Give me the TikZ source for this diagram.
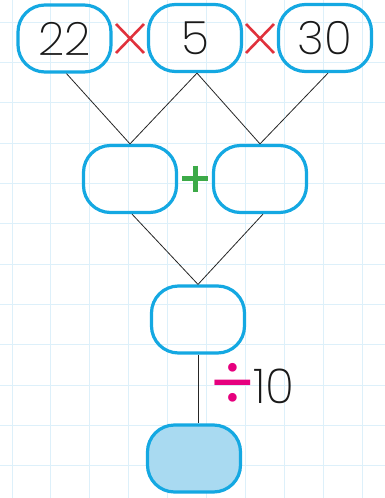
\documentclass[tikz,border=0pt]{standalone}
\usepackage{fontspec}
\setmainfont{Poppins ExtraLight}
\newfontfamily\opfont{Poppins}
\definecolor{gridc}{HTML}{DDF0FA}
\definecolor{boxc}{HTML}{14A8E2}
\definecolor{fillc}{HTML}{A9DAF1}
\definecolor{timesc}{HTML}{E0323C}
\definecolor{plusc}{HTML}{3CAA48}
\definecolor{divc}{HTML}{E6007E}
\tikzset{
  numbox/.style={draw=boxc, line width=3.2pt, rounded corners=27pt, minimum width=93pt, minimum height=67pt, inner sep=0pt, font=\fontsize{46}{46}\selectfont, text=black!90},
  conn/.style={draw=black!85, line width=0.8pt},
  timesmark/.style={draw=timesc, line width=2.6pt},
  plusmark/.style={draw=plusc, line width=5pt},
}
\begin{document}
\begin{tikzpicture}[x=1pt,y=-1pt]
\useasboundingbox (0,0) rectangle (385,498);
\fill[white] (0,0) rectangle (385,498);
\begin{scope}
\clip (0,0) rectangle (385,498);
\foreach \i in {0,...,9} \draw[gridc, line width=1pt] (12+38.9*\i,0) -- (12+38.9*\i,498);
\foreach \j in {-1,0,...,11} \draw[gridc, line width=1pt] (0,22.3+40.3*\j) -- (385,22.3+40.3*\j);
\end{scope}
% boxes
\node[numbox] (a22) at (64.5,38.5) {22};
\node[numbox] (a5) at (195,38) {5};
\node[numbox] (a30) at (325,38) {30};
\node[numbox] (m1) at (130,179) {};
\node[numbox] (m2) at (260,179) {};
\node[numbox] (s) at (198,319.5) {};
\node[numbox, fill=fillc] (r) at (194,458.5) {};
% connectors
\draw[conn] ([xshift=2pt]a22.south) -- (m1.north);
\draw[conn] ([xshift=2pt]a5.south) -- (m1.north);
\draw[conn] ([xshift=2pt]a5.south) -- (m2.north);
\draw[conn] ([xshift=3pt]a30.south) -- (m2.north);
\draw[conn] ([xshift=2pt]m1.south) -- (s.north);
\draw[conn] ([xshift=3pt]m2.south) -- (s.north);
\draw[conn] (s.south) -- (s.south |- r.north);
% operators
\draw[timesmark] (116,24) -- (144,53) (116,53) -- (144,24);
\draw[timesmark] (246,24) -- (274,53) (246,53) -- (274,24);
\draw[plusmark] (182,178.5) -- (208,178.5) (195,165.5) -- (195,191.5);
\node[inner sep=0pt, font=\opfont\fontsize{70}{70}\selectfont, text=divc] (divs) at (232.5,385.5) {÷};
\node[anchor=base west, inner sep=0pt, font=\fontsize{48}{48}\selectfont, text=black!90] (ten) at (253,403) {10};
\end{tikzpicture}
\end{document}
